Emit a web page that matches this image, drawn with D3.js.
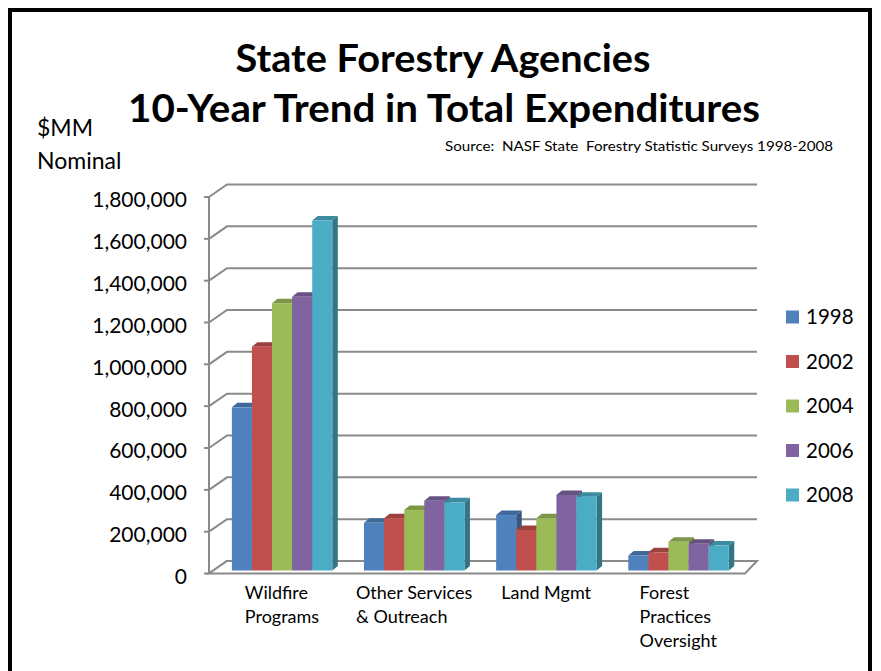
<!DOCTYPE html>
<html>
<head>
<meta charset="utf-8">
<script src="https://cdn.jsdelivr.net/npm/d3@7"></script>
<style>
  html, body { margin: 0; padding: 0; background: #fff; }
  svg { display: block; }
  text { font-family: Lato, "Open Sans", sans-serif; fill: #000; white-space: pre; }
</style>
</head>
<body>
<svg id="chart" width="881" height="671"></svg>
<script>
// Expenditure categories (x axis)
const categories = [
  "Wildfire Programs",
  "Other Services & Outreach",
  "Land Mgmt",
  "Forest Practices Oversight"
];
// Wrapped label lines for each category
const categoryLines = [
  ["Wildfire", "Programs"],
  ["Other Services", "& Outreach"],
  ["Land Mgmt"],
  ["Forest", "Practices", "Oversight"]
];
// Survey years (series)
const years = ["1998", "2002", "2004", "2006", "2008"];
// Total expenditures, $ thousands nominal, per category for each year
const values1998 = [780000, 228000, 265000, 72000];
const values2002 = [1070000, 250000, 194000, 87000];
const values2004 = [1278000, 289000, 250000, 137000];
const values2006 = [1309000, 334000, 361000, 128000];
const values2008 = [1673000, 326000, 353000, 119000];
const seriesValues = [values1998, values2002, values2004, values2006, values2008];
// Value axis ticks
const yTicks = [0, 200000, 400000, 600000, 800000, 1000000, 1200000, 1400000, 1600000, 1800000];

const colors = ["#4F81BD", "#C0504D", "#9BBB59", "#8064A2", "#4BACC6"];

const svg = d3.select("#chart");

// Outer frame
svg.append("rect")
  .attr("x", 10).attr("y", 10)
  .attr("width", 860).attr("height", 720)
  .attr("fill", "none").attr("stroke", "#000").attr("stroke-width", 4);

// Titles
svg.append("text")
  .attr("x", 443).attr("y", 72)
  .attr("text-anchor", "middle")
  .style("font-weight", "bold").style("font-size", "39px")
  .attr("textLength", 415).attr("lengthAdjust", "spacingAndGlyphs")
  .text("State Forestry Agencies");
svg.append("text")
  .attr("x", 444).attr("y", 122)
  .attr("text-anchor", "middle")
  .style("font-weight", "bold").style("font-size", "39px")
  .attr("textLength", 632).attr("lengthAdjust", "spacingAndGlyphs")
  .text("10-Year Trend in Total Expenditures");
svg.append("text")
  .attr("x", 37).attr("y", 136)
  .style("font-size", "23px")
  .text("$MM");
svg.append("text")
  .attr("x", 37).attr("y", 169)
  .style("font-size", "23px")
  .text("Nominal");
svg.append("text")
  .attr("x", 445).attr("y", 151)
  .style("font-size", "14px")
  .attr("textLength", 388).attr("lengthAdjust", "spacingAndGlyphs")
  .text("Source:  NASF State  Forestry Statistic Surveys 1998-2008");

// 3D frame geometry
const axisX = 209;          // front value axis
const depthDX = 18, depthDY = -12.5;  // floor / side-wall depth
const wallRight = 757;      // right end of back wall gridlines
const floorFrontRight = 745;
const barDX = 5.5, barDY = -4.5;      // column depth

const yMax = 1800000;
const yFront = d3.scaleLinear().domain([0, yMax]).range([573.5, 197]);
const yBack = d3.scaleLinear().domain([0, yMax]).range([573.5 + depthDY, 197 + depthDY]);
const yBar = d3.scaleLinear().domain([0, yMax]).range([570.5, 194]);

const x0 = d3.scaleBand().domain(categories).range([216, 744.6])
  .paddingInner(0.24).paddingOuter(0.12);
const x1 = d3.scaleBand().domain(years).range([0, x0.bandwidth()]);

const grid = svg.append("g");
const gridColor = "#8a8a8a";

// back wall gridlines and side wall connectors
yTicks.forEach(t => {
  grid.append("polyline")
    .attr("points", [
      [axisX, yFront(t)],
      [axisX + depthDX, yBack(t)],
      [wallRight, yBack(t)]
    ].map(p => p.join(",")).join(" "))
    .attr("fill", "none").attr("stroke", gridColor).attr("stroke-width", 2);
  grid.append("line")
    .attr("x1", axisX - 5).attr("x2", axisX)
    .attr("y1", yFront(t)).attr("y2", yFront(t))
    .attr("stroke", gridColor).attr("stroke-width", 2);
});

// floor
grid.append("polygon")
  .attr("points", [
    [axisX, yFront(0)],
    [floorFrontRight, yFront(0)],
    [wallRight, yBack(0)],
    [axisX + depthDX, yBack(0)]
  ].map(p => p.join(",")).join(" "))
  .attr("fill", "#fff").attr("stroke", gridColor).attr("stroke-width", 2);

// front value axis line
grid.append("line")
  .attr("x1", axisX).attr("x2", axisX)
  .attr("y1", yFront(yMax)).attr("y2", yFront(0))
  .attr("stroke", gridColor).attr("stroke-width", 2);

// value axis labels
svg.append("g").selectAll("text")
  .data(yTicks).join("text")
  .attr("x", 187)
  .attr("y", d => yFront(d) + 3)
  .attr("dy", "0.35em")
  .attr("text-anchor", "end")
  .style("font-size", "21px")
  .text(d => d3.format(",")(d));

// columns
const bars = svg.append("g");
categories.forEach((c, ci) => {
  years.forEach((yr, si) => {
    const v = seriesValues[si][ci];
    const col = d3.color(colors[si]);
    const xl = x0(c) + x1(yr);
    const w = x1.bandwidth();
    const yt = yBar(v), yb = yBar(0);
    const g = bars.append("g");
    // right side face
    g.append("polygon")
      .attr("points", [
        [xl + w, yt], [xl + w + barDX, yt + barDY],
        [xl + w + barDX, yb + barDY], [xl + w, yb]
      ].map(p => p.join(",")).join(" "))
      .attr("fill", col.darker(1.1));
    // top face
    g.append("polygon")
      .attr("points", [
        [xl, yt], [xl + w, yt],
        [xl + w + barDX, yt + barDY], [xl + barDX, yt + barDY]
      ].map(p => p.join(",")).join(" "))
      .attr("fill", col.darker(0.6));
    // front face
    g.append("rect")
      .attr("x", xl).attr("y", yt)
      .attr("width", w).attr("height", yb - yt)
      .attr("fill", colors[si]);
  });
});

// category labels
const catG = svg.append("g");
categories.forEach((c, ci) => {
  const t = catG.append("text").style("font-size", "18px");
  categoryLines[ci].forEach((ln, li) => {
    t.append("tspan").attr("x", 0).attr("y", 599 + li * 24).text(ln);
  });
  const wMax = t.node().getBBox().width;
  const cx = x0(c) + x0.bandwidth() / 2;
  t.attr("transform", `translate(${cx - wMax / 2},0)`);
});

// legend
const legend = svg.append("g");
years.forEach((yr, i) => {
  const cy = 317 + i * 44.5;
  legend.append("rect")
    .attr("x", 786).attr("y", cy - 6.5)
    .attr("width", 13).attr("height", 13)
    .attr("fill", colors[i]);
  legend.append("text")
    .attr("x", 806).attr("y", cy)
    .attr("dy", "0.36em")
    .style("font-size", "20.5px")
    .text(yr);
});
</script>
</body>
</html>
